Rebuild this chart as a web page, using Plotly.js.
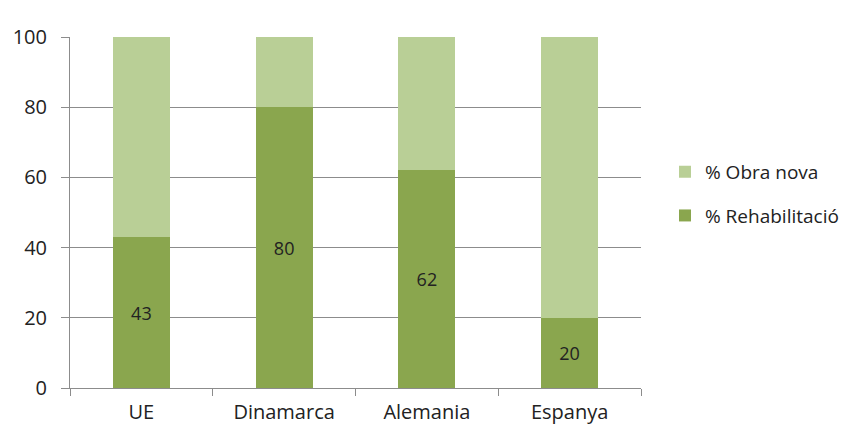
<!DOCTYPE html>
<html>
<head>
<meta charset="utf-8">
<script src="https://cdn.plot.ly/plotly-3.0.1.min.js"></script>
<style>html,body{margin:0;padding:0;background:#fff}#chart{width:850px;height:426px}</style>
</head>
<body>
<div id="chart"></div>
<script>
var categories = ["UE", "Dinamarca", "Alemania", "Espanya"];
var rehabilitacio = [43, 80, 62, 20];
var obraNova = [57, 20, 38, 80];
var yTicks = [0, 20, 40, 60, 80, 100];

var font = "Open Sans, Noto Sans, sans-serif";

var traces = [
  {
    type: "bar", name: "% Rehabilitació", x: categories, y: rehabilitacio,
    marker: {color: "#8AA64E"}, width: 0.4,
    text: rehabilitacio.map(String), textposition: "inside", insidetextanchor: "middle",
    textangle: 0, textfont: {family: font, size: 18, color: "#222"},
    legendgroup: "a", legendrank: 2, hoverinfo: "y"
  },
  {
    type: "bar", name: "% Obra nova", x: categories, y: obraNova,
    marker: {color: "#B9CF96"}, width: 0.4,
    legendgroup: "b", legendrank: 1, hoverinfo: "y"
  }
];

var layout = {
  width: 850, height: 426,
  margin: {l: 70, r: 209, t: 37, b: 38, autoexpand: false},
  barmode: "stack",
  paper_bgcolor: "#fff", plot_bgcolor: "#fff",
  font: {family: font, size: 19, color: "#222"},
  xaxis: {
    showline: true, linecolor: "#8c8c8c", linewidth: 1,
    ticks: "outside", tickson: "boundaries", ticklen: 7, tickcolor: "#8c8c8c",
    tickfont: {family: font, size: 20, color: "#222"}, ticklabelstandoff: 6,
    showgrid: false
  },
  yaxis: {
    range: [0, 100], tickvals: yTicks, ticktext: yTicks.map(String),
    showline: true, linecolor: "#8c8c8c", linewidth: 1,
    ticks: "outside", ticklen: 8, tickcolor: "#8c8c8c",
    gridcolor: "#8c8c8c", gridwidth: 1, zeroline: false,
    tickfont: {family: font, size: 20, color: "#222"}, ticklabelstandoff: 10
  },
  legend: {
    x: 1.042, y: 0.553, xanchor: "left", yanchor: "middle",
    traceorder: "grouped",
    font: {family: font, size: 19, color: "#222"},
    tracegroupgap: 16, itemwidth: 30
  },
  showlegend: true
};

Plotly.newPlot("chart", traces, layout, {displayModeBar: false, staticPlot: true});
</script>
</body>
</html>
